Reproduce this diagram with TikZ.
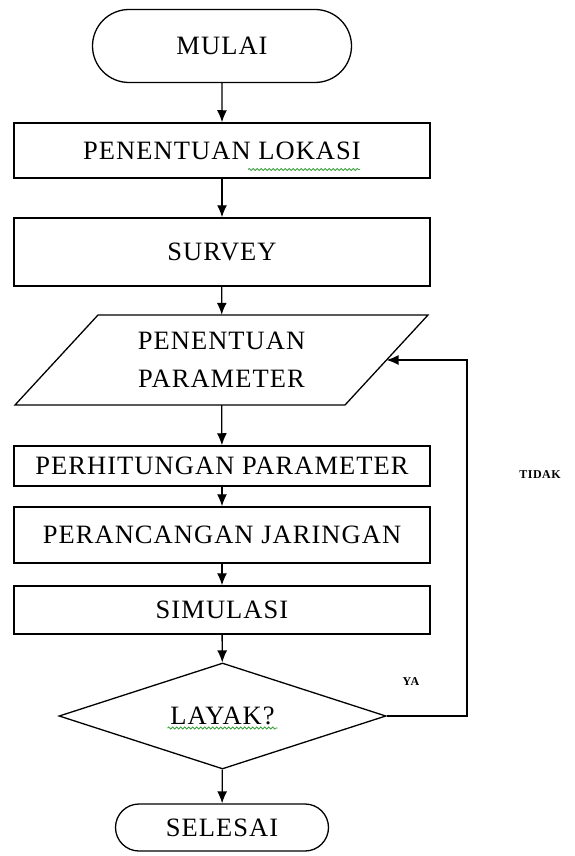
\documentclass[tikz,border=0pt]{standalone}
\usepackage{fontspec}
\setmainfont[LetterSpace=4]{Liberation Serif}
\usetikzlibrary{shapes.geometric, shapes.misc, arrows.meta, positioning, calc, decorations.pathmorphing}
\definecolor{ejaan}{RGB}{60, 160, 60}

\tikzset{
    terminal/.style={draw, rounded rectangle, line width=1.3pt, inner sep=0pt,
                     font=\fontsize{26.5}{30}\selectfont},
    prosesbox/.style={draw, rectangle, line width=1.5pt, inner sep=0pt,
                      minimum width=416pt, font=\fontsize{26.5}{30}\selectfont},
    alur/.style={-{Latex[length=12pt, width=10pt]}, line width=1.3pt},
    ejaanline/.style={ejaan, line width=0.8pt, decorate,
                      decoration={snake, amplitude=1pt, segment length=4pt}},
    ketlabel/.style={font=\bfseries\fontsize{12}{14}\selectfont}
}

\begin{document}
\begin{tikzpicture}[x=1pt, y=-1pt]
            \useasboundingbox (0,0) rectangle (575,856);
            \node[terminal, minimum width=259pt, minimum height=73pt] (mulai) at (222,46) {MULAI};
            \node[prosesbox, minimum height=55pt] (lokasi) at (222,150.5) {PENENTUAN LOKASI};
            \node[prosesbox, minimum height=68pt] (survey) at (222,252) {SURVEY};
            \node[inner sep=0pt, minimum height=90pt, align=center,
                  font=\fontsize{26.5}{38}\selectfont] (param) at (221.5,360) {PENENTUAN\\PARAMETER};
            \draw[line width=1.3pt] ($(param.center)+(-123.5,-45)$) -- ++(330,0) -- ++(-83,90) -- ++(-330,0) -- cycle;
            \coordinate (paramkanan) at ($(param.center)+(165,0)$);
            \node[prosesbox, minimum height=40pt] (hitung) at (222,466) {PERHITUNGAN PARAMETER};
            \node[prosesbox, minimum height=56pt] (rancang) at (222,535) {PERANCANGAN JARINGAN};
            \node[prosesbox, minimum height=48pt] (simulasi) at (222,610) {SIMULASI};
            \node[draw, diamond, aspect=3.08, line width=1.3pt, inner sep=0pt,
                  minimum width=327pt, minimum height=106pt,
                  font=\fontsize{26.5}{30}\selectfont] (layak) at (222.5,716) {LAYAK?};
            \node[terminal, minimum width=213pt, minimum height=47pt] (selesai) at (222,827.5) {SELESAI};

            \draw[alur] (mulai) -- (lokasi);
            \draw[alur] (lokasi) -- (survey);
            \draw[alur] (survey) -- (param);
            \draw[alur] (param) -- (hitung);
            \draw[alur] (hitung) -- (rancang);
            \draw[alur] (rancang) -- (simulasi);
            \draw[alur] (simulasi) -- (layak);
            \draw[alur] (layak) -- (selesai);

            \coordinate (balik) at (467,716);
            \draw[alur] (layak.east) -- (balik) |- (paramkanan);

            \node[ketlabel] (ya) at (411,682) {YA};
            \node[ketlabel] (tidak) at (540,475) {TIDAK};

            \draw[ejaanline] ($(lokasi.center)+(26,19)$) -- ($(lokasi.center)+(138,19)$);
            \draw[ejaanline] ($(layak.center)+(-55,12)$) -- ($(layak.center)+(55,12)$);
        \end{tikzpicture}
\end{document}
